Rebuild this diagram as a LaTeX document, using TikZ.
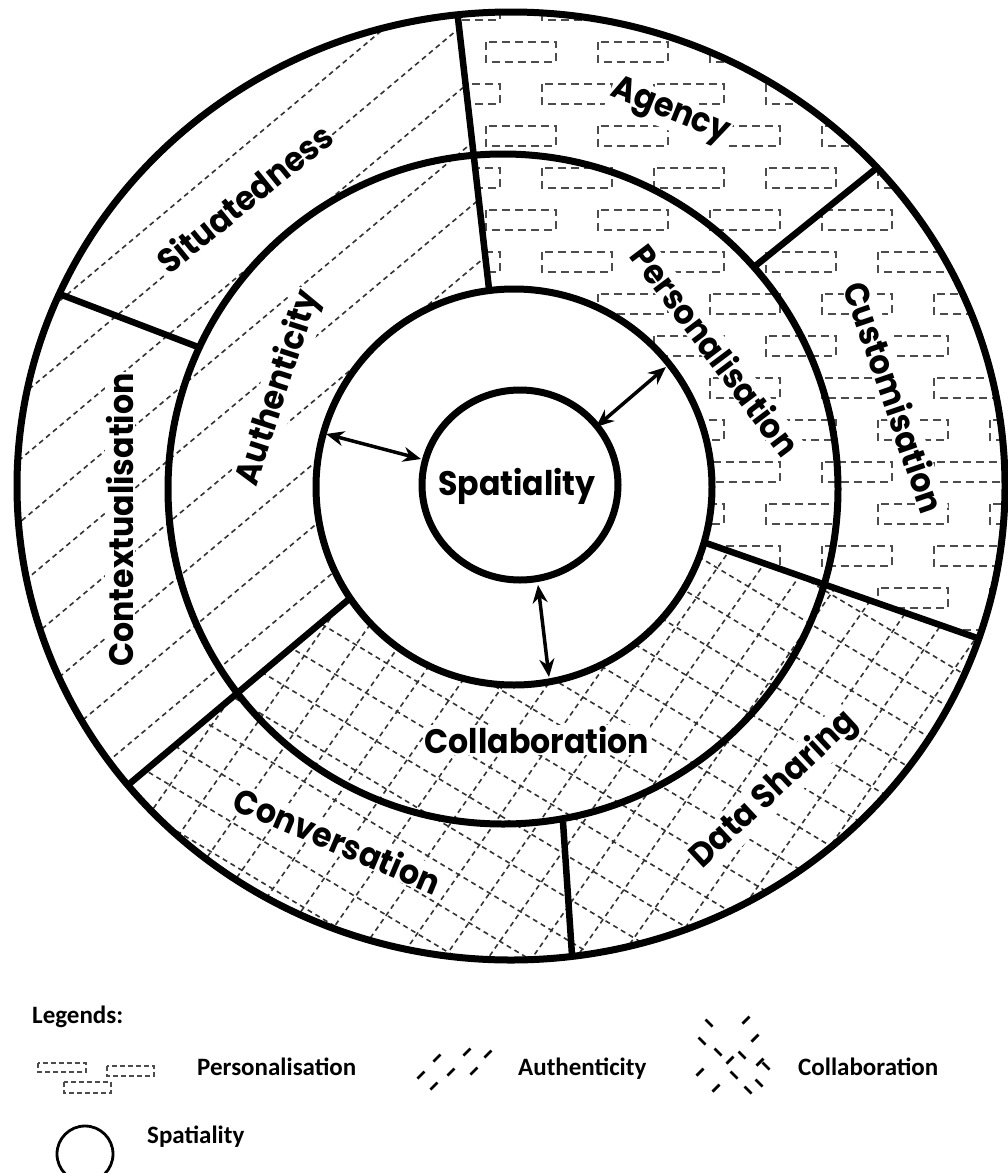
\documentclass[tikz,border=0pt]{standalone}
\usepackage{fontspec}
\setmainfont{Carlito}
\newfontfamily\ringfont[FakeStretch=0.93]{Poppins}
\usetikzlibrary{arrows.meta}

\begin{document}
\begin{tikzpicture}[x=1pt,y=-1pt,
  ringline/.style={line width=7pt},
  divider/.style={line width=6.5pt},
  hatch/.style={draw=black!80,line width=1.6pt,dash pattern=on 5pt off 4pt},
  brick/.style={draw=black!70,line width=1.7pt,dash pattern=on 8pt off 5pt},
  twoway/.style={line width=3.5pt,{Stealth[length=18pt,width=15pt]}-{Stealth[length=18pt,width=15pt]}},
  ringlabel/.style={font=\ringfont\bfseries\fontsize{34}{36}\selectfont,fill=white,inner sep=1pt},
  legendtext/.style={font=\bfseries\fontsize{25}{28}\selectfont,anchor=base west,inner sep=0pt},
  legendmark/.style={line width=2.8pt}]

\fill[white] (0,0) rectangle (1007,1173);
\useasboundingbox (0,0) rectangle (1007,1173);

% end points of the dividing lines
\coordinate (C) at (514,487);
\coordinate (d1i) at (489,289);   \coordinate (d1o) at (457.6,14.7);
\coordinate (d2o) at (62,295);    \coordinate (d2i) at (198,347);
\coordinate (d3o) at (878,167);   \coordinate (d3i) at (754,267);
\coordinate (d4i) at (706,543);   \coordinate (d4o) at (980,639);
\coordinate (d5i) at (348,600);   \coordinate (d5o) at (128,785);
\coordinate (d6i) at (563,822);   \coordinate (d6o) at (572,955);

% Authenticity sector: diagonal dashed lines
\begin{scope}
  \clip (511,486) ellipse [x radius=494, y radius=474];
  \clip (C) -- (d1i) -- (442.5,-117.5) -- (-200,-117.5) -- (-200,966) -- (-88,966) -- (d5i) -- cycle;
  \begin{scope}[rotate around={40:(511,486)}]
    \foreach \k in {-17,...,17}
      \draw[hatch] (-300,486+\k*48) -- (1320,486+\k*48);
  \end{scope}
\end{scope}

% Personalisation sector: dashed bricks
\begin{scope}
  \clip (511,486) ellipse [x radius=494, y radius=474];
  \clip (C) -- (d1i) -- (442.5,-117.5) -- (1300,-117.5) -- (1300,733) -- (1250,733) -- (d4i) -- cycle;
  \foreach \k in {0,...,17} {
    \pgfmathsetmacro{\yy}{10+42*\k}
    \pgfmathsetmacro{\xo}{521+56*mod(\k+1,2)}
    \foreach \i in {-1,...,5} {
      \pgfmathsetmacro{\xx}{\xo+112*\i}
      \draw[brick] (\xx-35,\yy-10) rectangle (\xx+35,\yy+10);
    }
  }
\end{scope}

% Collaboration sector: dashed cross-hatching
\begin{scope}
  \clip (511,486) ellipse [x radius=494, y radius=474];
  \clip (C) -- (d4i) -- (1250,733) -- (1300,733) -- (1300,1300) -- (-200,1300) -- (-200,966) -- (-88,966) -- (d5i) -- cycle;
  \begin{scope}[rotate around={55:(511,486)}]
    \foreach \k in {-22,...,22}
      \draw[hatch] (-300,486+\k*36) -- (1320,486+\k*36);
  \end{scope}
  \begin{scope}[rotate around={-31:(511,486)}]
    \foreach \k in {-22,...,22}
      \draw[hatch] (-300,486+\k*36) -- (1320,486+\k*36);
  \end{scope}
\end{scope}

% the inner ring stays blank
\fill[white] (514,487) circle [radius=198];

% ring labels
\node[ringlabel] (spat) at (517,486) {Spatiality};
\node[ringlabel] (collab) at (537,740) {Collaboration};
\node[ringlabel,rotate=72] (auth) at (279,388) {Authenticity};
\node[ringlabel,rotate=-53] (pers) at (716,350) {Personalisation};
\node[ringlabel,rotate=39] (situ) at (244,198) {Situatedness};
\node[ringlabel,rotate=-22] (agen) at (670,112) {Agency};
\node[ringlabel,rotate=-71] (cust) at (895,397) {Customisation};
\node[ringlabel,rotate=90] (ctx) at (120,520) {Contextualisation};
\node[ringlabel,rotate=-23] (conv) at (338,840) {Conversation};
\node[ringlabel,rotate=43] (data) at (774,790) {Data Sharing};

% rings
\draw[ringline] (511,486) ellipse [x radius=494, y radius=474];
\draw[ringline] (503,489) circle [radius=335];
\draw[ringline] (514,487) circle [radius=198];
\draw[ringline] (520,485) ellipse [x radius=98, y radius=95];

% dividing lines
\draw[divider] (d1i) -- (d1o);
\draw[divider] (d2o) -- (d2i);
\draw[divider] (d3o) -- (d3i);
\draw[divider] (d4i) -- (d4o);
\draw[divider] (d5i) -- (d5o);
\draw[divider] (d6i) -- (d6o);

% links between the inner ring and the core
\coordinate (aL1) at (326,434); \coordinate (aL2) at (421,459);
\coordinate (aR1) at (666,367); \coordinate (aR2) at (596,427);
\coordinate (aB1) at (538,585); \coordinate (aB2) at (549,677);
\draw[twoway] (aL1) -- (aL2);
\draw[twoway] (aR1) -- (aR2);
\draw[twoway] (aB1) -- (aB2);

% legend
\node[legendtext] (legtitle) at (32,1023) {Legends:};
\draw[brick,line width=1.4pt,dash pattern=on 5pt off 3pt] (38,1063) rectangle (86,1072);
\draw[brick,line width=1.4pt,dash pattern=on 5pt off 3pt] (107,1066) rectangle (154,1076);
\draw[brick,line width=1.4pt,dash pattern=on 5pt off 3pt] (64,1082) rectangle (111,1093);
\node[legendtext] (legpers) at (197,1075) {Personalisation};
\foreach \cx/\cy in {421/1075,437/1058,451/1072,467/1052,474/1071,488/1054,434/1086}
  \draw[legendmark] (\cx-3.5,\cy+3.5) -- (\cx+3.5,\cy-3.5);
\node[legendtext] (legauth) at (518,1075) {Authenticity};
\foreach \cx/\cy in {746/1020,755/1038,730/1060,760/1062,700/1072,716/1088}
  \draw[legendmark] (\cx-3.5,\cy+3.5) -- (\cx+3.5,\cy-3.5);
\foreach \cx/\cy in {709/1023,702/1041,718/1052,742/1055,734/1075,766/1066,748/1090,759/1083}
  \draw[legendmark] (\cx-3.5,\cy-3.5) -- (\cx+3.5,\cy+3.5);
\node[legendtext] (legcoll) at (798,1075) {Collaboration};
\draw[legendmark] (85,1154) ellipse [x radius=28, y radius=28];
\node[legendtext] (legspat) at (147,1143) {Spatiality};
\end{tikzpicture}
\end{document}
